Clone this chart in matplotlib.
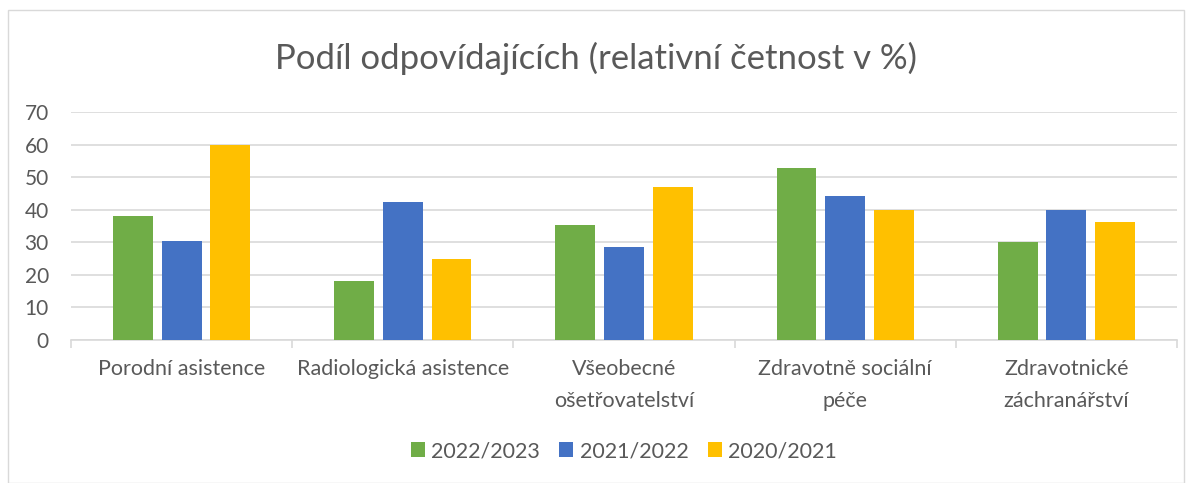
import matplotlib.pyplot as plt
import numpy as np
from matplotlib.patches import Rectangle

categories = [
    "Porodní asistence",
    "Radiologická asistence",
    "Všeobecné\nošetřovatelství",
    "Zdravotně sociální\npéče",
    "Zdravotnické\nzáchranářství",
]
series_names = ["2022/2023", "2021/2022", "2020/2021"]
values_2022_2023 = [38.1, 18.0, 35.2, 52.9, 30.1]
values_2021_2022 = [30.3, 42.4, 28.5, 44.3, 40.0]
values_2020_2021 = [60.0, 24.8, 47.0, 40.0, 36.2]
colors = ["#70ad47", "#4472c4", "#ffc000"]

plt.rcParams["font.family"] = ["Lato", "DejaVu Sans"]

fig = plt.figure(figsize=(11.92, 4.83), dpi=100)
ax = fig.add_axes([71 / 1192, 1 - 340 / 483, (1177 - 71) / 1192, (340 - 112) / 483])

# light border around the whole chart
fig.patches.append(Rectangle((8 / 1192, 0.0), 1 - 16 / 1192, 1 - 10 / 483,
                             transform=fig.transFigure, fill=False,
                             edgecolor="#d9d9d9", linewidth=1))

x = np.arange(len(categories))
offsets = [-0.22, 0.0, 0.22]
all_values = [values_2022_2023, values_2021_2022, values_2020_2021]
for vals, off, col, name in zip(all_values, offsets, colors, series_names):
    ax.bar(x + off, vals, width=0.18, color=col, label=name, zorder=3)

ax.set_xlim(-0.5, len(categories) - 0.5)
ax.set_ylim(0, 70)
ax.set_yticks(range(0, 71, 10))
ax.yaxis.grid(True, color="#d9d9d9", linewidth=1.2, zorder=0)
ax.set_axisbelow(True)

for side in ["top", "right", "left"]:
    ax.spines[side].set_visible(False)
ax.spines["bottom"].set_color("#d9d9d9")
ax.spines["bottom"].set_linewidth(1.2)

# category labels and boundary ticks
ax.set_xticks(x)
ax.set_xticklabels(categories, fontsize=15.5, color="#595959", linespacing=1.7)
ax.tick_params(axis="x", length=0, pad=14)
ax.set_xticks(np.arange(-0.5, len(categories)), minor=True)
ax.tick_params(axis="x", which="minor", length=6, color="#d9d9d9", width=1.2)
ax.tick_params(axis="y", length=0, labelsize=15, labelcolor="#595959", pad=16)

fig.text(0.5, 1 - 58 / 483, "Podíl odpovídajících (relativní četnost v %)",
         ha="center", va="center", fontsize=25, color="#595959")

ax.legend(loc="center", bbox_to_anchor=(0.5, (340 - 451) / (340 - 112)),
          ncol=3, frameon=False, fontsize=15.5, handlelength=0.65,
          handleheight=0.65, columnspacing=0.9, handletextpad=0.3,
          labelcolor="#595959")

fig.savefig("out.png", dpi=100)
